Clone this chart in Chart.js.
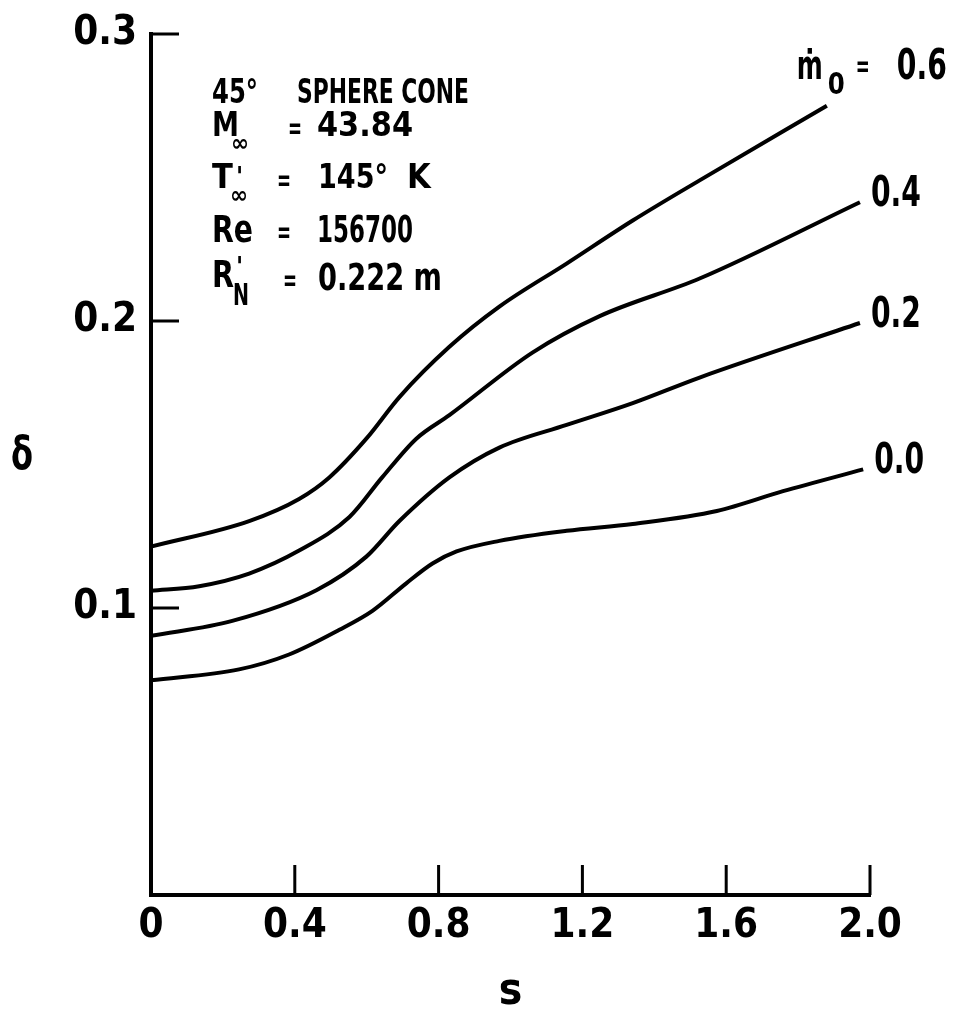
<!DOCTYPE html>
<html>
<head>
<meta charset="utf-8">
<title>45° sphere cone - shock standoff</title>
<script src="https://cdn.jsdelivr.net/npm/chart.js@4.4.1/dist/chart.umd.min.js"></script>
<style>
  html, body { margin: 0; padding: 0; background: #fff; }
  #chart { display: block; }
</style>
</head>
<body>
<canvas id="chart" width="955" height="1019"></canvas>
<script>
// valeurs (s, delta) pour chaque debit injecte m0
const s00 = [0, 0.245, 0.384, 0.524, 0.616, 0.710, 0.783, 0.850, 0.969, 1.156, 1.340, 1.574, 1.758, 1.981];
const d00 = [0.0748, 0.0786, 0.0838, 0.0924, 0.0990, 0.1086, 0.1155, 0.1197, 0.1234, 0.1269, 0.1293, 0.1338, 0.1407, 0.1483];

const s02 = [0, 0.226, 0.460, 0.599, 0.691, 0.830, 0.969, 1.156, 1.340, 1.526, 1.972];
const d02 = [0.0903, 0.0955, 0.1062, 0.1179, 0.1303, 0.1455, 0.1559, 0.1638, 0.1714, 0.1803, 0.1993];

const s04 = [0, 0.134, 0.273, 0.412, 0.552, 0.643, 0.738, 0.830, 1.061, 1.248, 1.526, 1.972];
const d04 = [0.1060, 0.1076, 0.1120, 0.1200, 0.1317, 0.1455, 0.1590, 0.1672, 0.1890, 0.2017, 0.2148, 0.2414];

const s06 = [0, 0.273, 0.412, 0.496, 0.599, 0.691, 0.830, 0.969, 1.156, 1.340, 1.526, 1.880];
const d06 = [0.1214, 0.1303, 0.1380, 0.1455, 0.1590, 0.1735, 0.1910, 0.2050, 0.2200, 0.2350, 0.2490, 0.2750];

const curveLabels = ['0.0', '0.2', '0.4', '0.6'];

const xTicks = [0, 0.4, 0.8, 1.2, 1.6, 2.0];
const xTickLabels = ['0', '0.4', '0.8', '1.2', '1.6', '2.0'];
const yTicks = [0.1, 0.2, 0.3];
const yTickLabels = ['0.1', '0.2', '0.3'];

const INK = '#000';
const FAMILY = "'Liberation Sans Narrow', 'DejaVu Sans Condensed', sans-serif";

function font(size) {
    return 'bold ' + size + 'px ' + FAMILY;
}

function txt(ctx, t, x, y, size, maxW, align) {
    ctx.font = font(size);
    ctx.textAlign = align || 'left';
    if (maxW) ctx.fillText(t, x, y, maxW);
    else ctx.fillText(t, x, y);
}

// petits traits de graduation tournes vers l'interieur
const inwardTicks = {
    id: 'inwardTicks',
    afterDatasetsDraw(chart) {
        const { ctx, chartArea: a, scales: { x, y } } = chart;
        ctx.save();
        ctx.strokeStyle = INK;
        ctx.lineWidth = 3;
        ctx.beginPath();
        xTicks.forEach(v => {
            if (v === 0) return;
            const px = x.getPixelForValue(v);
            ctx.moveTo(px, a.bottom);
            ctx.lineTo(px, a.bottom - 30);
        });
        yTicks.forEach(v => {
            const py = y.getPixelForValue(v);
            ctx.moveTo(a.left, py);
            ctx.lineTo(a.left + 28, py);
        });
        ctx.stroke();
        ctx.restore();
    }
};

// textes : bloc de conditions, etiquettes des courbes, delta
const annotations = {
    id: 'annotations',
    afterDraw(chart) {
        const { ctx, scales: { x, y } } = chart;
        ctx.save();
        ctx.fillStyle = INK;
        ctx.textBaseline = 'alphabetic';

        // bloc de conditions
        txt(ctx, '45°', 212, 103, 34, 46);
        txt(ctx, 'SPHERE CONE', 297, 103, 34, 172);

        txt(ctx, 'M', 212, 136, 34, 27);
        txt(ctx, '∞', 231, 151, 24, 22);
        txt(ctx, '=', 295, 138, 30, 14, 'center');
        txt(ctx, '43.84', 317, 136, 34, 96);

        txt(ctx, 'T', 212, 188, 34, 21);
        txt(ctx, "'", 236, 186, 26);
        txt(ctx, '∞', 230, 203, 24, 22);
        txt(ctx, '=', 284, 190, 30, 14, 'center');
        txt(ctx, '145°', 318, 188, 34, 70);
        txt(ctx, 'K', 407, 188, 34, 26);

        txt(ctx, 'Re', 212, 242, 37, 41);
        txt(ctx, '=', 284, 242, 30, 14, 'center');
        txt(ctx, '156700', 317, 242, 37, 96);

        txt(ctx, 'R', 212, 287, 37, 22);
        txt(ctx, "'", 236, 276, 26);
        txt(ctx, 'N', 233, 305, 30, 16);
        txt(ctx, '=', 290, 290, 30, 14, 'center');
        txt(ctx, '0.222 m', 318, 290, 37, 124);

        // etiquettes en bout de courbe
        const ends = [[s00, d00], [s02, d02], [s04, d04], [s06, d06]];
        ends.forEach(([sv, dv], i) => {
            const ex = x.getPixelForValue(sv[sv.length - 1]);
            const ey = y.getPixelForValue(dv[dv.length - 1]);
            if (i < 3) {
                txt(ctx, curveLabels[i], ex + 11, ey + 4, 42, 50);
            } else {
                txt(ctx, 'ṁ', ex - 30, ey - 27, 40, 26);
                txt(ctx, '0', ex + 1, ey - 12, 30, 17);
                txt(ctx, '=', ex + 36, ey - 30, 30, 14, 'center');
                txt(ctx, curveLabels[i], ex + 70, ey - 27, 42, 50);
            }
        });

        // titre de l'axe vertical (non tourne)
        txt(ctx, 'δ', 22, 469, 46, 22, 'center');
        ctx.restore();
    }
};

const datasets = [[s00, d00], [s02, d02], [s04, d04], [s06, d06]].map(([sv, dv], i) => ({
    label: 'm0 = ' + curveLabels[i],
    data: sv.map((v, k) => ({ x: v, y: dv[k] })),
    borderColor: INK,
    borderWidth: 4,
    pointRadius: 0,
    fill: false,
    cubicInterpolationMode: 'monotone'
}));

const tickFont = { family: FAMILY, size: 40, weight: 'bold', lineHeight: 1 };

new Chart(document.getElementById('chart'), {
    type: 'line',
    data: { datasets: datasets },
    options: {
        responsive: false,
        animation: false,
        devicePixelRatio: 1,
        layout: { padding: { left: 51, right: 85, top: 25, bottom: 0 } },
        plugins: {
            legend: { display: false },
            tooltip: { enabled: false }
        },
        scales: {
            x: {
                type: 'linear',
                min: 0,
                max: 2,
                afterBuildTicks: s => { s.ticks = xTicks.map(v => ({ value: v })); },
                afterFit: s => { s.height = 124; },
                grid: { display: false, drawTicks: false },
                border: { display: true, color: INK, width: 4 },
                ticks: {
                    color: INK,
                    font: tickFont,
                    padding: 12,
                    maxRotation: 0,
                    autoSkip: false,
                    callback: (v, i) => xTickLabels[i]
                },
                title: {
                    display: true,
                    text: 's',
                    color: INK,
                    font: { family: FAMILY, size: 44, weight: 'bold', lineHeight: 1 },
                    padding: { top: 0, bottom: 4 }
                }
            },
            y: {
                type: 'linear',
                min: 0,
                max: 0.3,
                afterBuildTicks: s => { s.ticks = yTicks.map(v => ({ value: v })); },
                afterFit: s => { s.width = 100; },
                grid: { display: false, drawTicks: false },
                border: { display: true, color: INK, width: 4 },
                ticks: {
                    color: INK,
                    font: tickFont,
                    padding: 14,
                    autoSkip: false,
                    callback: (v, i) => yTickLabels[i]
                }
            }
        }
    },
    plugins: [inwardTicks, annotations]
});
</script>
</body>
</html>
